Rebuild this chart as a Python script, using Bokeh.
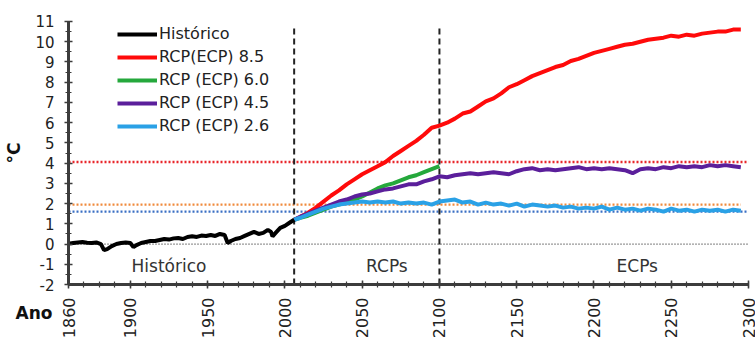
from bokeh.plotting import figure
from bokeh.models import FixedTicker, Legend, LegendItem, Label
from bokeh.embed import file_html
from bokeh.resources import INLINE
import math

# ---------------- data ----------------
hist_years = [1860, 1863, 1866, 1869, 1872, 1875, 1878, 1881, 1883, 1885, 1888, 1891,
              1894, 1897, 1900, 1902, 1904, 1907, 1910, 1913, 1916, 1919, 1922, 1925,
              1928, 1931, 1934, 1937, 1940, 1943, 1946, 1949, 1952, 1955, 1958, 1961,
              1963, 1965, 1968, 1971, 1974, 1977, 1980, 1983, 1986, 1989, 1991, 1992,
              1994, 1997, 2000, 2003, 2006]
hist_vals = [0.02, 0.05, 0.08, 0.10, 0.06, 0.05, 0.08, 0.00, -0.30, -0.25, -0.10, 0.00,
             0.05, 0.08, 0.05, -0.15, -0.05, 0.05, 0.10, 0.15, 0.15, 0.20, 0.25, 0.22,
             0.28, 0.30, 0.25, 0.35, 0.38, 0.35, 0.42, 0.40, 0.45, 0.40, 0.50, 0.45,
             0.05, 0.15, 0.25, 0.30, 0.40, 0.50, 0.60, 0.50, 0.55, 0.70, 0.60, 0.38,
             0.55, 0.80, 0.90, 1.05, 1.20]

rcp_years = [2006, 2010, 2015, 2020, 2025, 2030, 2035, 2040, 2045, 2050, 2055, 2060,
             2065, 2070, 2075, 2080, 2085, 2090, 2095, 2100]

ext_years = [2105, 2110, 2115, 2120, 2125, 2130, 2135, 2140, 2145, 2150, 2155, 2160,
             2165, 2170, 2175, 2180, 2185, 2190, 2195, 2200, 2205, 2210, 2215, 2220,
             2225, 2230, 2235, 2240, 2245, 2250, 2255, 2260, 2265, 2270, 2275, 2280,
             2285, 2290, 2295]

rcp85_vals = [1.20, 1.35, 1.55, 1.80, 2.10, 2.40, 2.65, 2.95, 3.20, 3.45, 3.65, 3.85,
              4.05, 4.35, 4.60, 4.85, 5.10, 5.40, 5.75, 5.85]
ecp85_vals = [6.00, 6.20, 6.45, 6.55, 6.80, 7.05, 7.20, 7.45, 7.75, 7.90, 8.10, 8.30,
              8.45, 8.60, 8.75, 8.85, 9.05, 9.15, 9.30, 9.45, 9.55, 9.65, 9.75, 9.85,
              9.90, 10.00, 10.10, 10.15, 10.20, 10.30, 10.25, 10.35, 10.30, 10.40, 10.45, 10.50,
              10.50, 10.60, 10.60]

rcp60_vals = [1.20, 1.30, 1.40, 1.55, 1.70, 1.85, 1.95, 2.05, 2.20, 2.35, 2.55, 2.75,
              2.90, 3.00, 3.15, 3.30, 3.40, 3.55, 3.70, 3.85]

rcp45_vals = [1.20, 1.35, 1.50, 1.65, 1.80, 1.95, 2.10, 2.20, 2.35, 2.45, 2.50, 2.60,
              2.70, 2.75, 2.85, 2.95, 2.95, 3.10, 3.20, 3.35]
ecp45_vals = [3.30, 3.40, 3.45, 3.50, 3.45, 3.50, 3.55, 3.50, 3.45, 3.60, 3.70, 3.75,
              3.65, 3.70, 3.65, 3.70, 3.75, 3.80, 3.70, 3.75, 3.70, 3.75, 3.70, 3.65,
              3.50, 3.70, 3.75, 3.70, 3.80, 3.75, 3.85, 3.80, 3.85, 3.80, 3.90, 3.85,
              3.90, 3.85, 3.80]

rcp26_vals = [1.20, 1.30, 1.45, 1.60, 1.75, 1.85, 1.95, 2.00, 2.05, 2.10, 2.05, 2.10,
              2.05, 2.10, 2.00, 2.05, 2.00, 2.05, 1.95, 2.10]
ecp26_vals = [2.15, 2.20, 2.05, 2.10, 1.95, 2.05, 1.95, 2.00, 1.90, 2.00, 1.85, 1.95,
              1.90, 1.85, 1.90, 1.80, 1.85, 1.75, 1.80, 1.75, 1.85, 1.70, 1.80, 1.70,
              1.75, 1.65, 1.75, 1.70, 1.60, 1.75, 1.65, 1.70, 1.60, 1.70, 1.65, 1.70,
              1.60, 1.70, 1.65]

ref_levels = [4.05, 1.95, 1.60]          # dotted reference lines
period_bounds = [2006, 2100]             # dashed vertical separators

legend_labels = ["Histórico", "RCP(ECP) 8.5", "RCP (ECP) 6.0", "RCP (ECP) 4.5", "RCP (ECP) 2.6"]
x_ticks = [1860, 1900, 1950, 2000, 2050, 2100, 2150, 2200, 2250, 2300]
y_ticks = list(range(-2, 12))

# ---------------- styling ----------------
FONT = "DejaVu Sans"
C_HIST = "#000000"
C_85 = "#ff0a0a"
C_60 = "#25a83c"
C_45 = "#5b1f9b"
C_26 = "#2aa1e6"
LW = 4

# frame fills the whole figure; axes are pinned at x=1860 / y=-2
p = figure(width=755, height=340, x_range=(1816.0, 2304.5), y_range=(-4.768, 12.038),
           output_backend="svg", toolbar_location=None,
           min_border_left=0, min_border_right=0, min_border_top=0, min_border_bottom=0)
p.outline_line_color = None
p.xgrid.visible = False
p.ygrid.visible = False
p.background_fill_color = "white"

# reference dotted lines
p.line([1860, 2300], [0, 0], line_color="#333333", line_width=1.2, line_dash="1 2")
p.line([1860, 2300], [ref_levels[0]] * 2, line_color="#e8262a", line_width=2.5, line_dash="2 2")
p.line([1860, 2295], [ref_levels[1]] * 2, line_color="#f08a3c", line_width=2.2, line_dash="2 2")
p.line([1860, 2300], [ref_levels[2]] * 2, line_color="#3a6fc4", line_width=2.2, line_dash="2 2")

# period separators
for b in period_bounds:
    p.line([b, b], [-2, 10.8], line_color="#222222", line_width=2, line_dash="6 4")

r85 = p.line(rcp_years + ext_years, rcp85_vals + ecp85_vals, line_color=C_85, line_width=LW)
r60 = p.line(rcp_years, rcp60_vals, line_color=C_60, line_width=LW)
r45 = p.line(rcp_years + ext_years, rcp45_vals + ecp45_vals, line_color=C_45, line_width=LW)
r26 = p.line(rcp_years + ext_years, rcp26_vals + ecp26_vals, line_color=C_26, line_width=LW)
rh = p.line(hist_years, hist_vals, line_color=C_HIST, line_width=LW)

legend = Legend(items=[LegendItem(label=legend_labels[0], renderers=[rh]),
                       LegendItem(label=legend_labels[1], renderers=[r85]),
                       LegendItem(label=legend_labels[2], renderers=[r60]),
                       LegendItem(label=legend_labels[3], renderers=[r45]),
                       LegendItem(label=legend_labels[4], renderers=[r26])],
                location=(117, 203))
legend.glyph_width = 40
legend.glyph_height = 20
legend.label_height = 23
legend.label_standoff = 2
legend.spacing = 0
legend.padding = 0
legend.margin = 0
legend.background_fill_alpha = 0
legend.border_line_alpha = 0
legend.label_text_font = FONT
legend.label_text_font_size = "16px"
legend.label_text_color = "#222222"
p.add_layout(legend)

# axes
p.xaxis.fixed_location = -2
p.xaxis.bounds = (1860, 2300)
p.yaxis.fixed_location = 1860
p.yaxis.bounds = (-2, 11)
for ax in (p.xaxis[0], p.yaxis[0]):
    ax.axis_line_color = "#3c3c3c"
    ax.axis_line_width = 3
    ax.major_tick_line_color = "#3c3c3c"
    ax.minor_tick_line_color = "#3c3c3c"
    ax.major_tick_line_width = 1.5
    ax.minor_tick_line_width = 1.2
    ax.major_tick_in = 4
    ax.major_tick_out = 4
    ax.minor_tick_in = 3
    ax.minor_tick_out = 3
    ax.major_label_text_font = FONT
    ax.major_label_text_color = "#222222"

p.xaxis.major_label_text_font_size = "16px"
p.yaxis.major_label_text_font_size = "15px"
p.xaxis.ticker = FixedTicker(ticks=x_ticks, minor_ticks=list(range(1860, 2301, 10)))
p.yaxis.ticker = FixedTicker(ticks=y_ticks, minor_ticks=[v + 0.5 for v in range(-2, 11)])
p.yaxis.major_label_overrides = {t: str(t) for t in y_ticks}
p.xaxis.major_label_orientation = math.pi / 2
p.xaxis.major_label_standoff = 9
p.yaxis.major_label_standoff = 10

p.yaxis.axis_label = "°C"
p.yaxis.axis_label_text_font = FONT
p.yaxis.axis_label_text_font_size = "17px"
p.yaxis.axis_label_text_font_style = "bold"
p.yaxis.axis_label_text_color = "#111111"
p.yaxis.axis_label_standoff = 8

# text annotations
for txt, xx in (("Histórico", 1925), ("RCPs", 2066), ("ECPs", 2228)):
    p.add_layout(Label(x=xx, y=-1.11, text=txt, text_align="center", text_baseline="middle",
                       text_font=FONT, text_font_size="17px", text_color="#333333"))

p.add_layout(Label(x=1825.7, y=-3.41, text="Ano", text_align="left", text_baseline="middle",
                   text_font=FONT, text_font_size="17px", text_font_style="bold",
                   text_color="#111111"))

open("out.html", "w").write(file_html(p, INLINE))
